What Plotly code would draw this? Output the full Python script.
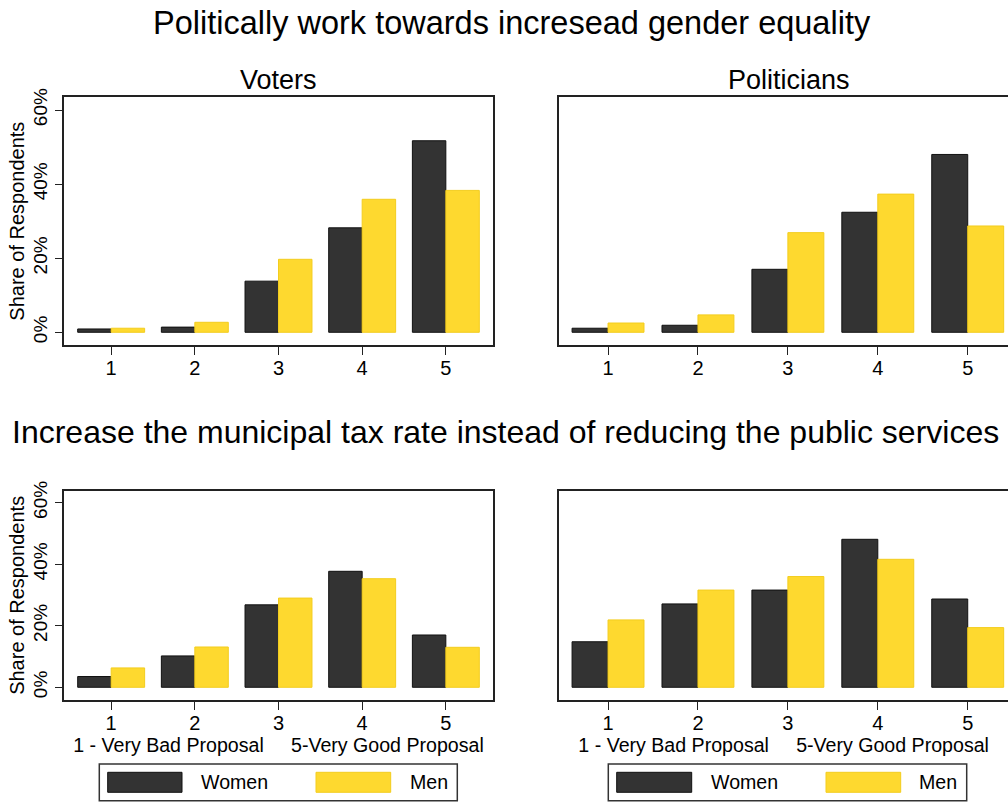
import plotly.graph_objects as go

W, H = 1008, 802

# Response scale (1 = very bad ... 5 = very good)
categories = [1, 2, 3, 4, 5]

# Share of respondents (%) - "Politically work towards increased gender equality"
voters_women = [0.9, 1.4, 13.8, 28.2, 51.7]
voters_men = [1.1, 2.7, 19.7, 35.9, 38.3]
politicians_women = [1.1, 1.9, 17.0, 32.4, 48.0]
politicians_men = [2.5, 4.7, 26.9, 37.3, 28.7]

# Share of respondents (%) - "Increase the municipal tax rate ..."
tax_voters_women = [3.5, 10.2, 26.8, 37.7, 17.0]
tax_voters_men = [6.3, 13.1, 29.0, 35.3, 13.0]
tax_politicians_women = [14.8, 27.1, 31.6, 48.1, 28.7]
tax_politicians_men = [21.9, 31.6, 36.0, 41.6, 19.4]

y_ticks = [0, 20, 40, 60]
y_tick_labels = ["0%", "20%", "40%", "60%"]
series_names = ["Women", "Men"]

WOMEN_COLOR = "#333333"
MEN_COLOR = "#fed92f"
FRAME = "#222222"
FONT = "Liberation Sans, Arial, sans-serif"


def px_x(x):
    return x / W


def px_y(y):
    return 1 - y / H


fig = go.Figure()

panels = [
    ("x", "y", voters_women, voters_men),
    ("x2", "y2", politicians_women, politicians_men),
    ("x3", "y3", tax_voters_women, tax_voters_men),
    ("x4", "y4", tax_politicians_women, tax_politicians_men),
]
for xa, ya, women, men in panels:
    fig.add_trace(go.Bar(x=categories, y=women, name=series_names[0], xaxis=xa, yaxis=ya,
                         marker=dict(color=WOMEN_COLOR, line=dict(color="#111111", width=1)),
                         showlegend=False))
    fig.add_trace(go.Bar(x=categories, y=men, name=series_names[1], xaxis=xa, yaxis=ya,
                         marker=dict(color=MEN_COLOR, line=dict(color="#f3cd1e", width=1)),
                         showlegend=False))

left_dom = [px_x(64.3), px_x(492.7)]
right_dom = [px_x(559.3), 1.0]
top_dom = [px_y(345), px_y(97.3)]
bot_dom = [px_y(700), px_y(490.7)]

x_common = dict(tickvals=categories, ticks="outside", ticklen=8, tickwidth=1.3,
                tickcolor=FRAME, showline=True, linecolor=FRAME, linewidth=1.6,
                showgrid=False, zeroline=False, tickfont=dict(size=20), fixedrange=True,
                automargin=False, ticklabelstandoff=-4)
y_common = dict(tickvals=y_ticks, ticktext=y_tick_labels, showline=True,
                linecolor=FRAME, linewidth=1.6, showgrid=False, zeroline=False,
                fixedrange=True, automargin=False)
y_left = dict(ticks="outside", ticklen=8, tickwidth=1.3, tickcolor=FRAME,
              tickangle=-90, tickfont=dict(size=19),
              title=dict(text="Share of Respondents", font=dict(size=20), standoff=0),
              mirror=True)
y_right = dict(ticks="", showticklabels=False, mirror=False)

bottom_title = "1 - Very Bad Proposal" + "\u00a0" * 5 + "5-Very Good Proposal"

fig.update_layout(
    template="none",
    xaxis=dict(domain=left_dom, anchor="y", range=[0.44, 5.56], mirror=True, **x_common),
    yaxis=dict(domain=top_dom, anchor="x", range=[-3.43, 63.43], **y_common, **y_left),
    xaxis2=dict(domain=right_dom, anchor="y2", range=[0.458, 5.448], mirror=True, **x_common),
    yaxis2=dict(domain=top_dom, anchor="x2", range=[-3.43, 63.43], **y_common, **y_right),
    xaxis3=dict(domain=left_dom, anchor="y3", range=[0.44, 5.56], mirror=True,
                title=dict(text=bottom_title, font=dict(size=19.6), standoff=0), **x_common),
    yaxis3=dict(domain=bot_dom, anchor="x3", range=[-4.13, 63.9], **y_common, **y_left),
    xaxis4=dict(domain=right_dom, anchor="y4", range=[0.458, 5.448], mirror=True,
                title=dict(text=bottom_title, font=dict(size=19.6), standoff=0), **x_common),
    yaxis4=dict(domain=bot_dom, anchor="x4", range=[-4.13, 63.9], **y_common, **y_right),
    barmode="group", bargap=0.2, bargroupgap=0,
    width=W, height=H, margin=dict(l=0, r=0, t=0, b=0, autoexpand=False),
    paper_bgcolor="white", plot_bgcolor="white",
    font=dict(family=FONT, size=20, color="#000000"),
    showlegend=False,
)

# Figure and panel headings
headings = [
    ("Politically work towards incresead gender equality", 511.5, 23, 32.5),
    ("Voters", 278.5, 80, 27),
    ("Politicians", 789, 80, 27),
    ("Increase the municipal tax rate instead of reducing the public services", 505, 432, 32),
]
for text, cx, cy, size in headings:
    fig.add_annotation(text=text, x=px_x(cx), y=px_y(cy), xref="paper", yref="paper",
                       xanchor="center", yanchor="middle", showarrow=False,
                       font=dict(size=size, family=FONT, color="#000000"))

# Legend boxes under each bottom panel
legends = [
    dict(box=(99.3, 457.3), women=(107.7, 182, 234), men=(316, 390.7, 428.5)),
    dict(box=(608.3, 966.7), women=(616.7, 691.7, 744), men=(826, 900.7, 938)),
]
for lg in legends:
    bx0, bx1 = lg["box"]
    fig.add_shape(type="rect", xref="paper", yref="paper",
                  x0=px_x(bx0), x1=px_x(bx1), y0=px_y(800.7), y1=px_y(764),
                  line=dict(color="#333333", width=1.5), fillcolor="white")
    for key, color, edge in (("women", WOMEN_COLOR, "#111111"), ("men", MEN_COLOR, "#f3cd1e")):
        sx0, sx1, tx = lg[key]
        fig.add_shape(type="rect", xref="paper", yref="paper",
                      x0=px_x(sx0), x1=px_x(sx1), y0=px_y(792.3), y1=px_y(772.3),
                      line=dict(color=edge, width=1), fillcolor=color)
        fig.add_annotation(text=series_names[0] if key == "women" else series_names[1],
                           x=px_x(tx), y=px_y(782), xref="paper", yref="paper",
                           xanchor="center", yanchor="middle", showarrow=False,
                           font=dict(size=19.6, family=FONT, color="#000000"))

# Page body without default margin so the figure starts at the window corner
fig.write_html("out.html", post_script="document.body.style.margin='0';")
